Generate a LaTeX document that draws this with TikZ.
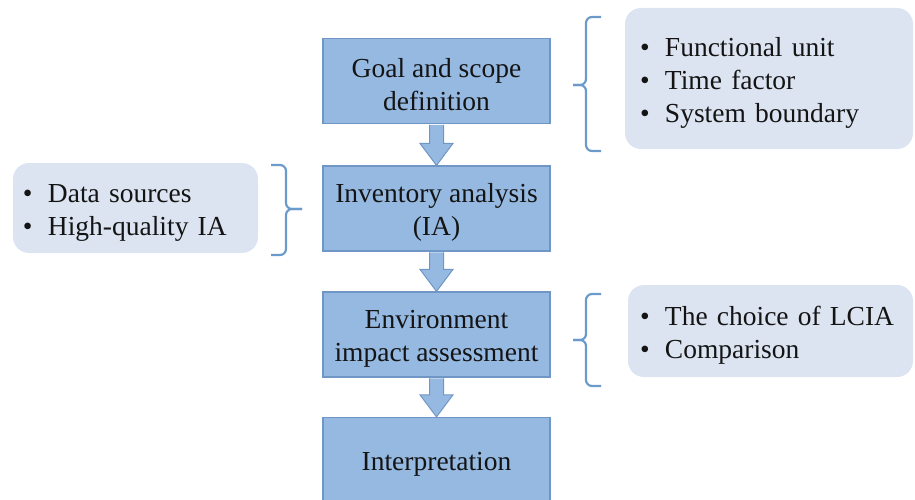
\documentclass[tikz,border=0pt]{standalone}
\usepackage{fontspec}
\setmainfont{Liberation Serif}
\usetikzlibrary{calc}
\definecolor{mainfill}{HTML}{95B9E1}
\definecolor{maindraw}{HTML}{7096C6}
\definecolor{sidefill}{HTML}{DCE4F2}
\definecolor{bracecol}{HTML}{6B9BCB}
\definecolor{txt}{HTML}{141414}
\newcommand\itembul{\makebox[25pt][l]{\textbullet}}
\newcommand\lowr{\rule{0pt}{27pt}}
\newcommand\blockarrow[2]{\draw[flowarrow] ($(#1.south)+(-7,0.8)$) -- ($(#2.north)+(-7,-22)$) -- ($(#2.north)+(-16.5,-22)$) -- (#2.north) -- ($(#2.north)+(16.5,-22)$) -- ($(#2.north)+(7,-22)$) -- ($(#1.south)+(7,0.8)$);}
\begin{document}
\begin{tikzpicture}[x=1pt,y=-1pt,
  stagebox/.style={draw=maindraw, line width=1.2pt, fill=mainfill, minimum width=227pt, minimum height=85pt, align=center, text=txt, font=\fontsize{27.5}{33}\selectfont, inner sep=0pt},
  notebox/.style={fill=sidefill, rounded corners=16pt, align=left, text=txt, font=\fontsize{27.5}{33}\selectfont, inner ysep=0pt},
  flowarrow/.style={draw=maindraw, line width=1pt, fill=mainfill},
  bracket/.style={draw=bracecol, line width=2.2pt, rounded corners=6pt}]
\useasboundingbox (0,0) rectangle (915,500);
% stages
\node[stagebox] (b1) at (436.5,81) {\lowr Goal and scope\\definition};
\node[stagebox] (b2) at (436.5,208.5) {\lowr Inventory analysis\\(IA)};
\node[stagebox] (b3) at (436.5,334.5) {\lowr Environment\\impact assessment};
\node[stagebox] (b4) at (436.5,460) {\lowr Interpretation};
\blockarrow{b1}{b2}
\blockarrow{b2}{b3}
\blockarrow{b3}{b4}
% notes
\node[notebox, minimum height=141pt, text width=258pt, inner xsep=15pt] (n1) at (769,78.5)
  {\lowr\itembul Functional unit\\\itembul Time factor\\\itembul System boundary};
\node[notebox, minimum height=90pt, text width=225pt, inner xsep=10pt] (n2) at (135.5,208)
  {\lowr\itembul Data sources\\\itembul High-quality IA};
\node[notebox, minimum height=92pt, text width=261pt, inner xsep=12pt] (n3) at (770.5,331)
  {\lowr\itembul The choice of LCIA\\\itembul Comparison};
% brackets
\draw[bracket] (601,17) -- (586,17) -- (586,85) -- (573,85);
\draw[bracket] (573,85) -- (586,85) -- (586,151) -- (601,151);
\draw[bracket] (271,165) -- (286,165) -- (286,209) -- (302,209);
\draw[bracket] (302,209) -- (286,209) -- (286,255) -- (271,255);
\draw[bracket] (601,294) -- (586,294) -- (586,340) -- (573,340);
\draw[bracket] (573,340) -- (586,340) -- (586,386) -- (601,386);
\end{tikzpicture}
\end{document}
